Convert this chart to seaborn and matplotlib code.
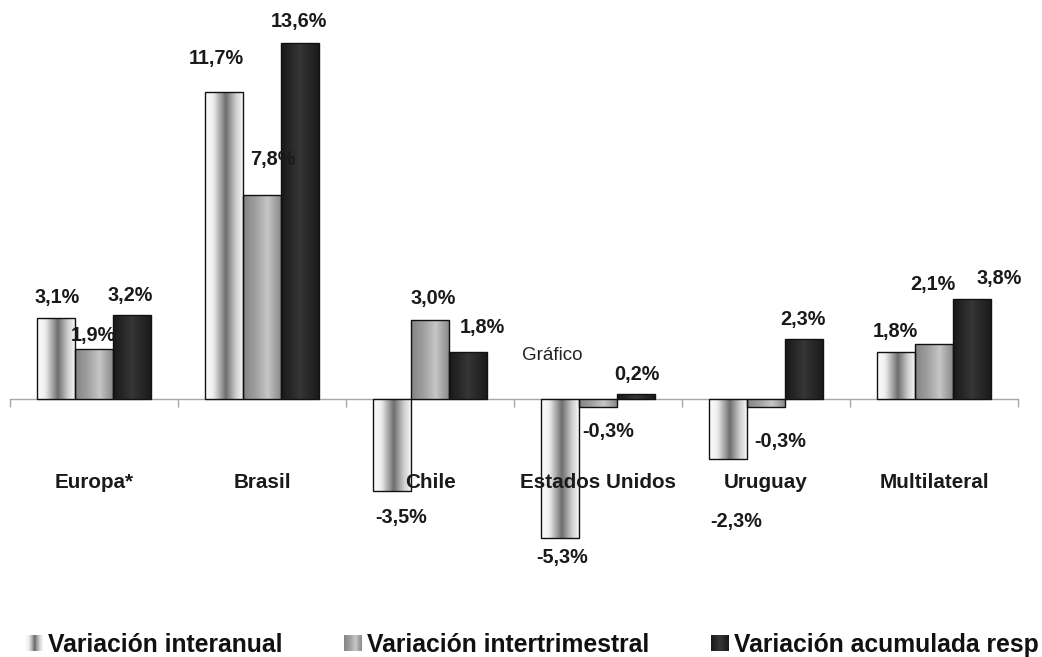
import numpy as np
import pandas as pd
import matplotlib
matplotlib.use("Agg")
import matplotlib.pyplot as plt
import seaborn as sns
from matplotlib.colors import LinearSegmentedColormap
from matplotlib.patches import Rectangle
from matplotlib.legend_handler import HandlerBase

# ---- data -------------------------------------------------------------
categorias = ["Europa*", "Brasil", "Chile", "Estados Unidos", "Uruguay", "Multilateral"]
series = ["Variación interanual", "Variación intertrimestral",
          "Variación acumulada resp"]
interanual = [3.1, 11.7, -3.5, -5.3, -2.3, 1.8]
intertrimestral = [1.9, 7.8, 3.0, -0.3, -0.3, 2.1]
acumulada = [3.2, 13.6, 1.8, 0.2, 2.3, 3.8]

# ---- label placement (pixel offsets of each value label from the bar end) ----
label_offsets = [
    [(1, 20), (-8, 34), (9, -27), (2, -20), (8, -62), (-1, 20)],
    [(-1, 14), (11, 35), (3, 22), (10, -25), (14, -35), (-1, 59)],
    [(-1, 20), (-1, 21), (15, 24), (1, 19), (-1, 19), (28, 21)],
]

# ---- bar shading (horizontal gradient across each bar) ----
grad_stops = [
    [(0.0, "#fdfdfd"), (0.22, "#eeeeee"), (0.55, "#6e6e6e"), (0.82, "#cfcfcf"), (1.0, "#f6f6f6")],
    [(0.0, "#858585"), (0.3, "#9c9c9c"), (0.65, "#c6c6c6"), (1.0, "#8a8a8a")],
    [(0.0, "#181818"), (0.5, "#363636"), (1.0, "#1a1a1a")],
]
cmaps = [LinearSegmentedColormap.from_list(f"g{i}", s) for i, s in enumerate(grad_stops)]
base_colors = ["#b0b0b0", "#a8a8a8", "#262626"]

sns.set_theme(style="white")
plt.rcParams["font.family"] = ["Liberation Sans", "DejaVu Sans"]

df = pd.DataFrame({
    "categoria": categorias * 3,
    "serie": [s for s in series for _ in categorias],
    "valor": interanual + intertrimestral + acumulada,
})

fig = plt.figure(figsize=(10.42, 6.57), dpi=100)
# zero line sits at 399 px from top, 26.2 px per percentage point
ymin, ymax = -8.0, 15.0
ppu = 26.2
top_px = 399 - ymax * ppu
bot_px = 399 - ymin * ppu
ax = fig.add_axes([10 / 1042, (657 - bot_px) / 657, 1008 / 1042, (bot_px - top_px) / 657])

sns.barplot(data=df, x="categoria", y="valor", hue="serie", hue_order=series,
            order=categorias, palette=base_colors, width=0.673, gap=0,
            edgecolor="#111111", linewidth=1.0, legend=False, ax=ax, zorder=2)

grad_img = np.linspace(0, 1, 256).reshape(1, -1)
for s_idx, cont in enumerate(ax.containers):
    for bar in cont:
        x0, w = bar.get_x(), bar.get_width()
        y0, h = bar.get_y(), bar.get_height()
        im = ax.imshow(grad_img, cmap=cmaps[s_idx], aspect="auto",
                       extent=(x0, x0 + w, min(y0, y0 + h), max(y0, y0 + h)),
                       interpolation="bilinear", zorder=2.5)
        im.set_clip_path(bar)
        bar.set_facecolor("none")
        bar.set_zorder(3)

# value labels
values = [interanual, intertrimestral, acumulada]
for s_idx, cont in enumerate(ax.containers):
    for c_idx, bar in enumerate(cont):
        v = values[s_idx][c_idx]
        xc = bar.get_x() + bar.get_width() / 2
        dx, dy = label_offsets[s_idx][c_idx]
        ax.annotate(f"{v:.1f}%".replace(".", ","), xy=(xc, v), xytext=(dx, dy),
                    textcoords="offset pixels", ha="center", va="center",
                    fontsize=14.3, fontweight="bold", color="#1a1a1a", zorder=5)

ax.set_xlim(-0.5, len(categorias) - 0.5)
ax.set_ylim(ymin, ymax)

# axis: a single light line at zero with short ticks between categories
for side in ["top", "right", "left"]:
    ax.spines[side].set_visible(False)
ax.spines["bottom"].set_position(("data", 0))
ax.spines["bottom"].set_color("#a8a8a8")
ax.spines["bottom"].set_linewidth(1.0)
ax.spines["bottom"].set_zorder(1)
ax.set_yticks([])
ax.set_xticks(np.arange(-0.5, len(categorias), 1.0))
ax.set_xticklabels([])
ax.tick_params(axis="x", direction="out", length=5.5, width=1.0, color="#a8a8a8", bottom=True)
ax.set_xlabel("")
ax.set_ylabel("")
ax.patch.set_alpha(0)

# category names below the zero line
for i, cat in enumerate(categorias):
    ax.text(i, -3.2, cat, ha="center", va="center", fontsize=14.9,
            fontweight="bold", color="#1a1a1a", zorder=6)

ax.text(552 / 1042, 1 - 355 / 657, "Gráfico", transform=fig.transFigure,
        ha="center", va="center", fontsize=13.5, color="#222222")


class GradientHandler(HandlerBase):
    def __init__(self, cmap):
        super().__init__()
        self.cmap = cmap

    def create_artists(self, legend, orig_handle, xdescent, ydescent,
                       width, height, fontsize, trans):
        n = 30
        arts = []
        for i in range(n):
            r = Rectangle((-xdescent + i * width / n, -ydescent), width / n * 1.08, height,
                          facecolor=self.cmap((i + 0.5) / n), edgecolor="none",
                          transform=trans)
            arts.append(r)
        return arts


handles = [Rectangle((0, 0), 1, 1) for _ in series]
leg = fig.legend(handles, series, loc="center left",
                 bbox_to_anchor=(25 / 1042, 1 - 645 / 657), ncol=3, frameon=False,
                 prop={"weight": "bold", "size": 17.8},
                 handlelength=0.72, handleheight=0.64, handletextpad=0.2,
                 columnspacing=2.5, borderpad=0, borderaxespad=0,
                 handler_map={h: GradientHandler(c) for h, c in zip(handles, cmaps)})
for t in leg.get_texts():
    t.set_color("#111111")

fig.savefig("out.png", dpi=100)
